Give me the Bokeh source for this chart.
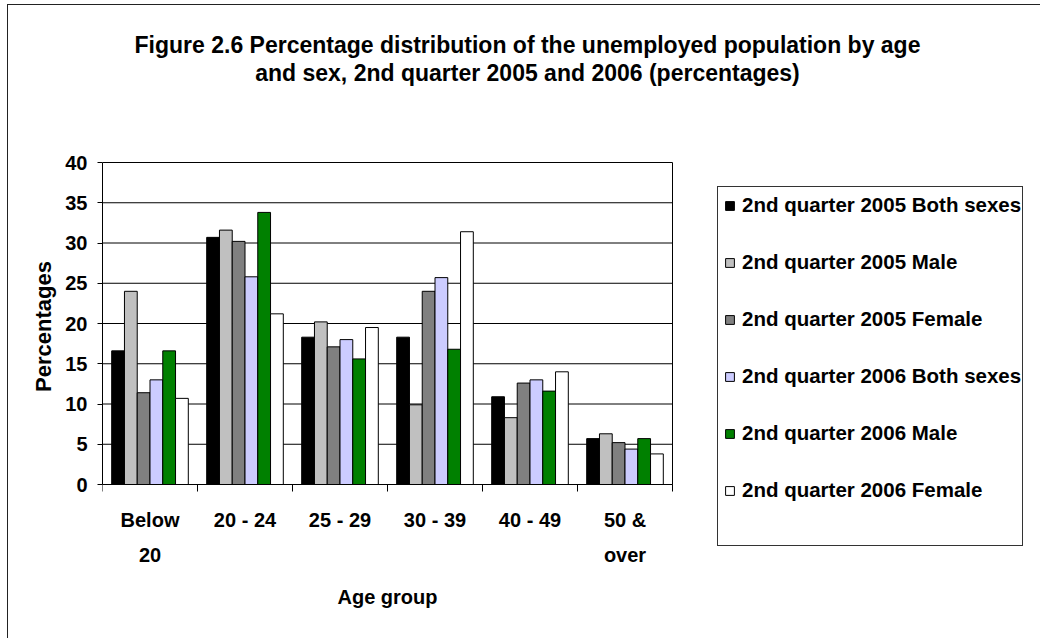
from bokeh.plotting import figure
from bokeh.models import (ColumnDataSource, FixedTicker, Legend, LegendItem,
                          Label, Range1d, InlineStyleSheet)
from bokeh.transform import dodge
from bokeh.embed import file_html
from bokeh.resources import INLINE

# Age groups and their axis labels
categories = ["Below 20", "20 - 24", "25 - 29", "30 - 39", "40 - 49", "50 & over"]
tick_labels = ["Below\n20", "20 - 24", "25 - 29", "30 - 39", "40 - 49", "50 &\nover"]

# Percentage of the unemployed in each age group
q2_2005_both = [16.6, 30.7, 18.3, 18.3, 10.9, 5.7]
q2_2005_male = [24.0, 31.6, 20.2, 9.9, 8.3, 6.3]
q2_2005_female = [11.4, 30.2, 17.1, 24.0, 12.6, 5.2]
q2_2006_both = [13.0, 25.8, 18.0, 25.7, 13.0, 4.4]
q2_2006_male = [16.6, 33.8, 15.6, 16.8, 11.6, 5.7]
q2_2006_female = [10.7, 21.2, 19.5, 31.4, 14.0, 3.8]

series_names = [
    "2nd quarter 2005 Both sexes",
    "2nd quarter 2005 Male",
    "2nd quarter 2005 Female",
    "2nd quarter 2006 Both sexes",
    "2nd quarter 2006 Male",
    "2nd quarter 2006 Female",
]
series_values = [q2_2005_both, q2_2005_male, q2_2005_female,
                 q2_2006_both, q2_2006_male, q2_2006_female]
series_colors = ["#000000", "#C0C0C0", "#808080", "#CCCCFF", "#008000", "#FFFFFF"]

y_min, y_max = 0, 40
y_ticks = [0, 5, 10, 15, 20, 25, 30, 35, 40]

title_lines = [
    "Figure 2.6 Percentage distribution of the unemployed population by age",
    "and sex, 2nd quarter 2005 and 2006 (percentages)",
]
x_title = "Age group"
y_title = "Percentages"

FONT = "Liberation Sans"
n_cat = len(categories)
centers = [i + 0.5 for i in range(n_cat)]
bounds = list(range(n_cat + 1))

# Pixel layout. The drawing frame spans everything right of the y axis
# (x 102..1040, y 14..638); the plot area inside it is 570 x 322 px with
# its 0 line at y = 484 and its 40 line at y = 162.
FRAME_L, FRAME_T, FRAME_R, FRAME_B = 102, 14, 1040, 638
PLOT_TOP, PLOT_ZERO = 162, 484
CAT_PX = 95.0
UNIT_PX = (PLOT_ZERO - PLOT_TOP) / (y_max - y_min)

x_range = Range1d(0, (FRAME_R - FRAME_L) / CAT_PX)
y_range = Range1d(y_min - (FRAME_B - PLOT_ZERO) / UNIT_PX,
                  y_max + (PLOT_TOP - FRAME_T) / UNIT_PX)

# chart frame and legend box drawn as page decoration
frame_css = InlineStyleSheet(css="""
:host::before {
  content: ""; position: absolute; left: 717px; top: 186px;
  width: 304px; height: 358px; border: 1px solid #333333;
  pointer-events: none; z-index: 10;
}
:host::after {
  content: ""; position: absolute; left: 7px; top: 4px; right: 0; bottom: 0;
  border-top: 1.5px solid #222222; border-left: 1.5px solid #222222;
  pointer-events: none; z-index: 10;
}
""")

p = figure(frame_width=FRAME_R - FRAME_L, frame_height=FRAME_B - FRAME_T,
           x_range=x_range, y_range=y_range, output_backend="svg",
           toolbar_location=None, min_border_left=FRAME_L, min_border_right=0,
           min_border_top=FRAME_T, min_border_bottom=0,
           stylesheets=[frame_css])
p.background_fill_color = "white"
p.border_fill_color = "white"
p.outline_line_color = None
p.xgrid.visible = False
p.ygrid.visible = False

# horizontal grid lines across the plot area (the 40 line closes it at the top)
p.segment(x0=[0] * len(y_ticks), x1=[n_cat] * len(y_ticks), y0=y_ticks,
          y1=y_ticks, line_color="black", line_width=1, level="underlay")
# right edge of the plot area
p.segment(x0=[n_cat], x1=[n_cat], y0=[y_min], y1=[y_max],
          line_color="black", line_width=1)

# grouped bars
bar_w = 0.1344
renderers = []
for k, (name, vals, col) in enumerate(zip(series_names, series_values, series_colors)):
    src = ColumnDataSource(dict(x=centers, top=vals))
    r = p.vbar(x=dodge("x", (k - 2.5) * bar_w, range=p.x_range), top="top",
               width=bar_w, source=src, fill_color=col, line_color="black",
               line_width=1)
    renderers.append(r)

# y axis
p.yaxis.ticker = FixedTicker(ticks=y_ticks)
p.yaxis.bounds = (y_min, y_max)
p.yaxis.major_tick_out = 5
p.yaxis.major_tick_in = 0
p.yaxis.minor_tick_out = 0
p.yaxis.minor_tick_in = 0
p.yaxis.axis_line_color = "black"
p.yaxis.major_tick_line_color = "black"
p.yaxis.major_label_standoff = 10
p.yaxis.major_label_text_font = FONT
p.yaxis.major_label_text_font_style = "bold"
p.yaxis.major_label_text_font_size = "20px"
p.yaxis.major_label_text_color = "black"
p.yaxis.axis_label = y_title
p.yaxis.axis_label_text_font = FONT
p.yaxis.axis_label_text_font_style = "bold"
p.yaxis.axis_label_text_font_size = "22px"
p.yaxis.axis_label_text_color = "black"
p.yaxis.axis_label_standoff = 6

# x axis on the 0 line: labels at group centres, tick marks at group boundaries
p.xaxis.fixed_location = y_min
p.xaxis.bounds = (0, n_cat)
p.xaxis.ticker = FixedTicker(ticks=centers, minor_ticks=bounds)
p.xaxis.major_label_overrides = {c: t for c, t in zip(centers, tick_labels)}
p.xaxis.major_tick_out = 0
p.xaxis.major_tick_in = 0
p.xaxis.minor_tick_out = 7
p.xaxis.minor_tick_in = 0
p.xaxis.minor_tick_line_color = "black"
p.xaxis.axis_line_color = "black"
p.xaxis.major_label_standoff = 17
p.xaxis.major_label_text_font = FONT
p.xaxis.major_label_text_font_style = "bold"
p.xaxis.major_label_text_font_size = "20px"
p.xaxis.major_label_text_color = "black"
p.xaxis.major_label_text_line_height = 1.6

# x axis title, centred under the plot area
p.add_layout(Label(x=(n_cat * CAT_PX) / 2, y=FRAME_B - 596, x_units="screen",
                   y_units="screen", text=x_title, text_align="center",
                   text_baseline="alphabetic", text_font=FONT,
                   text_font_style="bold", text_font_size="20px",
                   text_color="black"))

# legend, beside the plot area
legend = Legend(
    items=[LegendItem(label=n, renderers=[r]) for n, r in zip(series_names, renderers)],
    location=(614, FRAME_B - 510), orientation="vertical",
    glyph_width=11, glyph_height=11, label_height=24, label_standoff=7,
    spacing=33, padding=8, margin=0,
    border_line_alpha=0, background_fill_alpha=0,
    label_text_font=FONT, label_text_font_style="bold",
    label_text_font_size="20.5px", label_text_color="black",
)
p.add_layout(legend)

# two-line title
for txt, base in zip(title_lines, [44.5, 72]):
    p.add_layout(Label(x=527 - FRAME_L, y=FRAME_B - base, x_units="screen",
                       y_units="screen", text=txt, text_align="center",
                       text_baseline="alphabetic", text_font=FONT,
                       text_font_style="bold", text_font_size="23px",
                       text_color="black"))

open("out.html", "w").write(file_html(p, INLINE))
